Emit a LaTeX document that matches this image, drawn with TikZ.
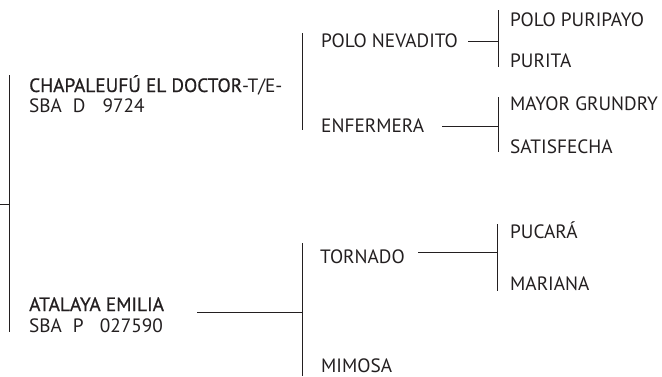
\documentclass[tikz,border=0pt]{standalone}
\usepackage{fontspec}
\setmainfont{PT Sans}
\newfontfamily\medfont{PT Sans}[FakeBold=0.7]
\definecolor{ink}{HTML}{231F20}
\begin{document}
\begin{tikzpicture}[x=1pt,y=-1pt,
  lbl/.style={inner sep=0pt, anchor=base west, font=\fontsize{19.3}{19.3}\selectfont, text=ink},
  ln/.style={line width=0.9pt, draw=ink}]
\useasboundingbox (0,0) rectangle (662,376);
% generation 1
\node[lbl] (sire) at (29,92) {{\medfont CHAPALEUFÚ EL DOCTOR}-T/E-};
\node[lbl] (sireid) at (29,112) {SBA\hspace{11pt}D\hspace{17pt}9724};
\node[lbl] (dam) at (29,311) {\medfont ATALAYA EMILIA};
\node[lbl] (damid) at (29,332) {SBA\hspace{11pt}P\hspace{16pt}027590};
% generation 2
\node[lbl] (pn) at (321,47) {POLO NEVADITO};
\node[lbl] (enf) at (321,132) {ENFERMERA};
\node[lbl] (tor) at (320,263) {TORNADO};
\node[lbl, text depth=0pt] (mim) at (321,372) {MIMOSA};
% generation 3
\node[lbl] (pp) at (510,26) {POLO PURIPAYO};
\node[lbl] (pur) at (510,67) {PURITA};
\node[lbl] (mg) at (510,110) {MAYOR GRUNDRY};
\node[lbl] (sat) at (510,153) {SATISFECHA};
\node[lbl] (puc) at (510,238) {PUCARÁ};
\node[lbl] (mar) at (510,290) {MARIANA};
% brackets
\coordinate (rT) at (9,75); \coordinate (rB) at (9,332);
\coordinate (rIn) at (0,204); \coordinate (rM) at (9,204);
\draw[ln] (rT) -- (rB);
\draw[ln] (rIn) -- (rM);
\coordinate (sT) at (302,33); \coordinate (sB) at (302,130);
\draw[ln] (sT) -- (sB);
\coordinate (dT) at (302,243); \coordinate (dB) at (302,376);
\draw[ln] (dT) -- (dB);
\coordinate (dA) at (197,312); \coordinate (dM) at (302,312);
\draw[ln] (dA) -- (dM);
\coordinate (b1T) at (498,10); \coordinate (b1B) at (498,67);
\coordinate (b1A) at (468,41); \coordinate (b1M) at (498,41);
\draw[ln] (b1T) -- (b1B); \draw[ln] (b1A) -- (b1M);
\coordinate (b2T) at (498,97); \coordinate (b2B) at (498,152);
\coordinate (b2A) at (442,126); \coordinate (b2M) at (498,126);
\draw[ln] (b2T) -- (b2B); \draw[ln] (b2A) -- (b2M);
\coordinate (b3T) at (497,224); \coordinate (b3B) at (497,291);
\coordinate (b3A) at (418,252); \coordinate (b3M) at (497,252);
\draw[ln] (b3T) -- (b3B); \draw[ln] (b3A) -- (b3M);
\end{tikzpicture}
\end{document}
